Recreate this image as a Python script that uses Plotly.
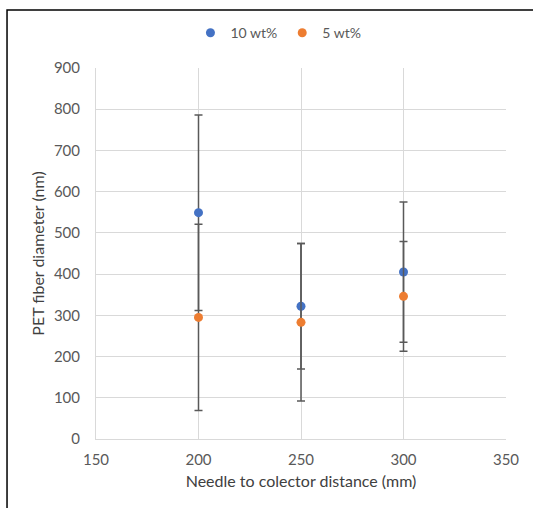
import plotly.graph_objects as go

distance = [200, 250, 300]
wt10_mean = [549, 322, 405]
wt10_err = [237, 152, 170]
wt5_mean = [295, 283, 346]
wt5_err = [226, 191, 133]

x_ticks = [150, 200, 250, 300, 350]
y_ticks = [0, 100, 200, 300, 400, 500, 600, 700, 800, 900]

font_family = "Lato, 'Open Sans', sans-serif"
text_color = "#595959"

fig = go.Figure()
fig.add_trace(go.Scatter(
    x=distance, y=wt10_mean, mode="markers", name="10 wt%",
    marker=dict(color="#4472C4", size=9),
    error_y=dict(type="data", array=wt10_err, visible=True,
                 color="#595959", thickness=1.5, width=4),
))
fig.add_trace(go.Scatter(
    x=distance, y=wt5_mean, mode="markers", name="5 wt%",
    marker=dict(color="#ED7D31", size=9),
    error_y=dict(type="data", array=wt5_err, visible=True,
                 color="#595959", thickness=1.5, width=4),
))

fig.update_layout(
    width=533, height=508,
    margin=dict(l=96, r=27, t=68, b=69),
    paper_bgcolor="white", plot_bgcolor="white",
    font=dict(family=font_family, size=15, color=text_color),
    showlegend=True,
    legend=dict(orientation="h", x=0.445, xanchor="center", y=1.094, yanchor="middle",
                font=dict(size=14, color=text_color), itemwidth=30,
                bgcolor="rgba(0,0,0,0)"),
    xaxis=dict(range=[150, 350], tickvals=x_ticks, showgrid=True, gridcolor="#d9d9d9",
               gridwidth=1, showline=True, linecolor="#d9d9d9", linewidth=1,
               zeroline=False, ticks="", ticklabelstandoff=7,
               tickfont=dict(size=15, color=text_color),
               title=dict(text="Needle to colector distance (mm)", standoff=8,
                          font=dict(size=16, color="#404040"))),
    yaxis=dict(range=[0, 900], tickvals=y_ticks, showgrid=True, gridcolor="#d9d9d9",
               gridwidth=1, showline=True, linecolor="#d9d9d9", linewidth=1,
               zeroline=False, ticks="", ticklabelstandoff=12,
               tickfont=dict(size=15, color=text_color),
               title=dict(text="PET fiber diameter (nm)", standoff=5,
                          font=dict(size=16, color="#404040"))),
    shapes=[dict(type="rect", xref="paper", yref="paper",
                 x0=-0.217, x1=1.09, y0=-0.21, y1=1.156,
                 line=dict(color="black", width=1.5), fillcolor="rgba(0,0,0,0)",
                 layer="above")],
)

fig.write_html("out.html", config={"displayModeBar": False},
               post_script="document.body.style.margin='0';document.body.style.overflow='hidden';")
